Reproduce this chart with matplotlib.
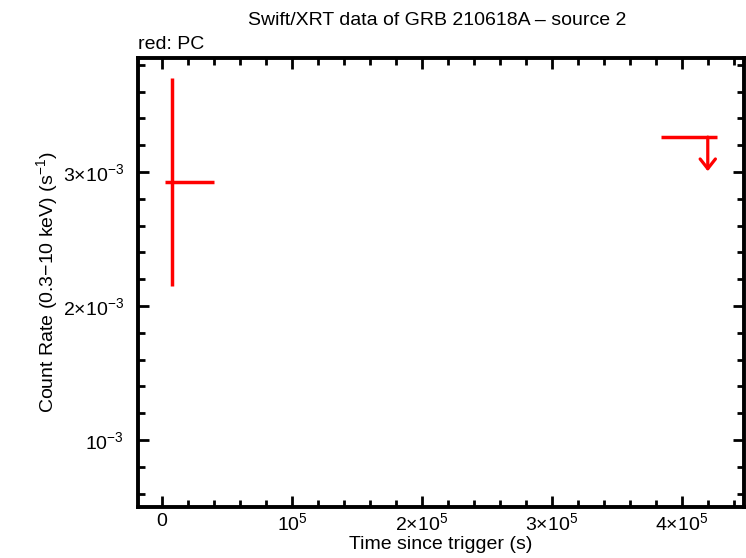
import matplotlib
matplotlib.use("Agg")
import matplotlib.pyplot as plt
from matplotlib.ticker import MultipleLocator, FixedLocator, FixedFormatter

plt.rcParams['font.family'] = ['Liberation Sans', 'DejaVu Sans']
plt.rcParams['mathtext.fontset'] = 'custom'
plt.rcParams['mathtext.rm'] = 'Liberation Sans'
plt.rcParams['mathtext.it'] = 'Liberation Sans:italic'
plt.rcParams['mathtext.bf'] = 'Liberation Sans:bold'
plt.rcParams['mathtext.sf'] = 'Liberation Sans'

# PC detection
pc_t = [7700]
pc_t_lo = [2300]
pc_t_hi = [40000]
pc_rate = [2.925e-3]
pc_rate_lo = [2.15e-3]
pc_rate_hi = [3.70e-3]

# PC upper limit
ul_t = [4.20e5]
ul_t_lo = [3.838e5]
ul_t_hi = [4.269e5]
ul_rate = [3.26e-3]
ul_arrow = 0.255e-3

red = '#ff0000'

fig = plt.figure(figsize=(7.46, 5.58), dpi=100)
ax = fig.add_axes([0.185, 0.0914, 0.812, 0.8046])

for t, tl, th, r, rl, rh in zip(pc_t, pc_t_lo, pc_t_hi, pc_rate, pc_rate_lo, pc_rate_hi):
    ax.errorbar([t], [r], xerr=[[t - tl], [th - t]], yerr=[[r - rl], [rh - r]],
                fmt='none', ecolor=red, elinewidth=2.5, capsize=0)

for t, tl, th, r in zip(ul_t, ul_t_lo, ul_t_hi, ul_rate):
    ax.plot([tl, th], [r, r], color=red, lw=2.5, solid_capstyle='butt')
    ax.annotate('', xy=(t, r - ul_arrow), xytext=(t, r),
                arrowprops=dict(arrowstyle='->,head_length=0.7,head_width=0.55',
                                color=red, lw=2.3, shrinkA=0, shrinkB=0))

ax.set_xlim(-18500, 4.477e5)
ax.set_ylim(0.5e-3, 3.85e-3)

ax.xaxis.set_major_locator(FixedLocator([0, 1e5, 2e5, 3e5, 4e5]))
ax.xaxis.set_major_formatter(FixedFormatter(['0', r'$10^5$', r'$2{\times}10^5$',
                                             r'$3{\times}10^5$', r'$4{\times}10^5$']))
ax.xaxis.set_minor_locator(MultipleLocator(2e4))
ax.yaxis.set_major_locator(FixedLocator([1e-3, 2e-3, 3e-3]))
ax.yaxis.set_major_formatter(FixedFormatter([r'$10^{-3}$', r'$2{\times}10^{-3}$',
                                             r'$3{\times}10^{-3}$']))
ax.yaxis.set_minor_locator(MultipleLocator(0.2e-3))

ax.tick_params(which='both', direction='in', top=True, right=True, width=2,
               labelsize=14)
ax.tick_params(which='major', length=8)
ax.tick_params(which='minor', length=5)
ax.tick_params(axis='y', which='major', pad=10)
ax.tick_params(axis='x', which='major', pad=4)
for s in ax.spines.values():
    s.set_linewidth(2.8)

ax.set_xlabel('Time since trigger (s)', fontsize=14, labelpad=1)
ax.set_ylabel(r'Count Rate (0.3$-$10 keV) (s$^{-1}$)', fontsize=14, labelpad=2)
fig.text(0.586, 0.963, 'Swift/XRT data of GRB 210618A – source 2', ha='center',
         va='center', fontsize=14)
ax.text(0.0, 1.012, 'red: PC', transform=ax.transAxes, ha='left', va='bottom',
        fontsize=14)

fig.savefig('out.png', dpi=100)
